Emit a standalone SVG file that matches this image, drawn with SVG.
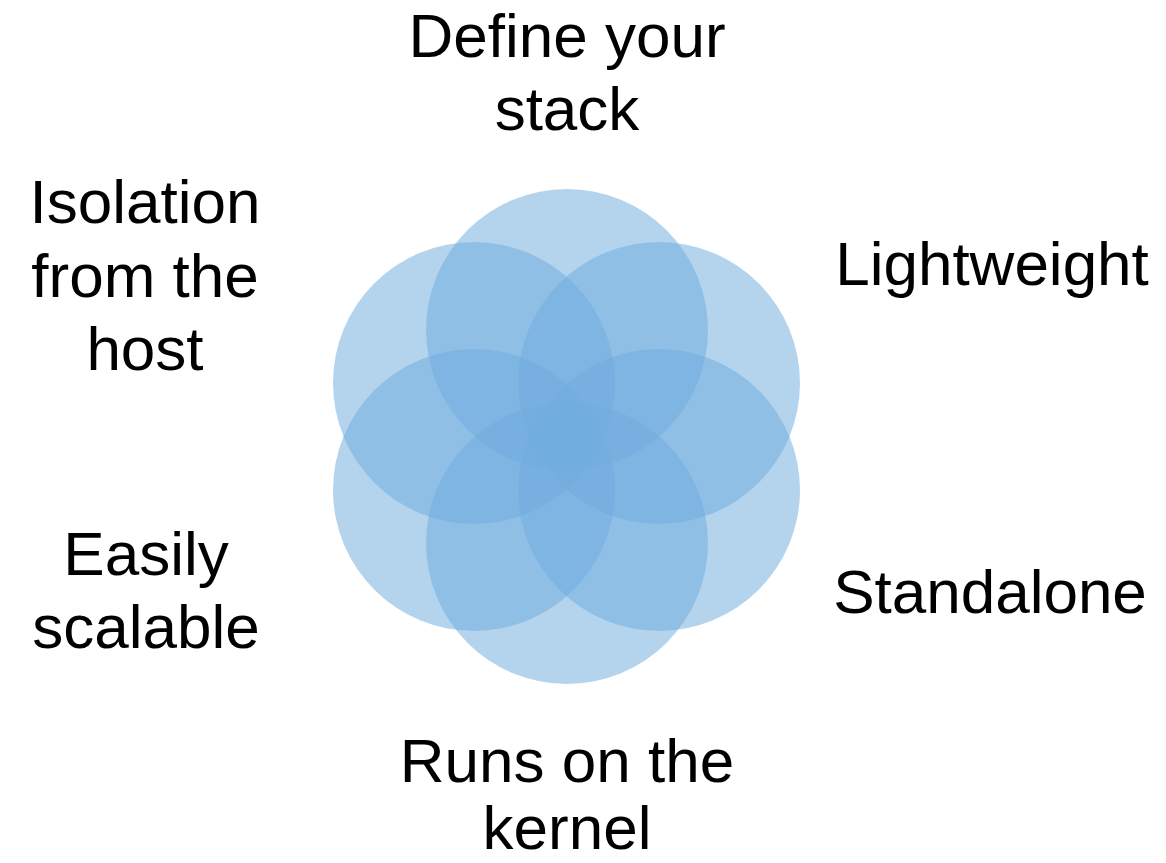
<svg xmlns="http://www.w3.org/2000/svg" width="1166" height="863" viewBox="0 0 1166 863">
  <style>
    .petal { fill: #6fadde; fill-opacity: 0.52; }
    .label { font-family: "Liberation Sans", Arial, sans-serif; font-size: 62px; fill: #000000; text-anchor: middle; }
  </style>
  <rect width="1166" height="863" fill="#ffffff"/>

  <!-- six overlapping circles arranged in a rosette -->
  <g id="rosette">
    <circle class="petal" cx="567" cy="330" r="141"/>
    <circle class="petal" cx="659" cy="383" r="141"/>
    <circle class="petal" cx="659" cy="490" r="141"/>
    <circle class="petal" cx="567" cy="543" r="141"/>
    <circle class="petal" cx="474" cy="490" r="141"/>
    <circle class="petal" cx="474" cy="383" r="141"/>
  </g>

  <g id="define-stack">
    <text class="label" x="567" y="57">Define your</text>
    <text class="label" x="567" y="130">stack</text>
  </g>
  <g id="lightweight">
    <text class="label" x="992" y="285">Lightweight</text>
  </g>
  <g id="standalone">
    <text class="label" x="990" y="613">Standalone</text>
  </g>
  <g id="runs-kernel">
    <text class="label" x="567" y="782">Runs on the</text>
    <text class="label" x="567" y="849">kernel</text>
  </g>
  <g id="easily-scalable">
    <text class="label" x="146" y="575">Easily</text>
    <text class="label" x="146" y="648">scalable</text>
  </g>
  <g id="isolation-host">
    <text class="label" x="145" y="223">Isolation</text>
    <text class="label" x="145" y="297">from the</text>
    <text class="label" x="145" y="370">host</text>
  </g>
</svg>
